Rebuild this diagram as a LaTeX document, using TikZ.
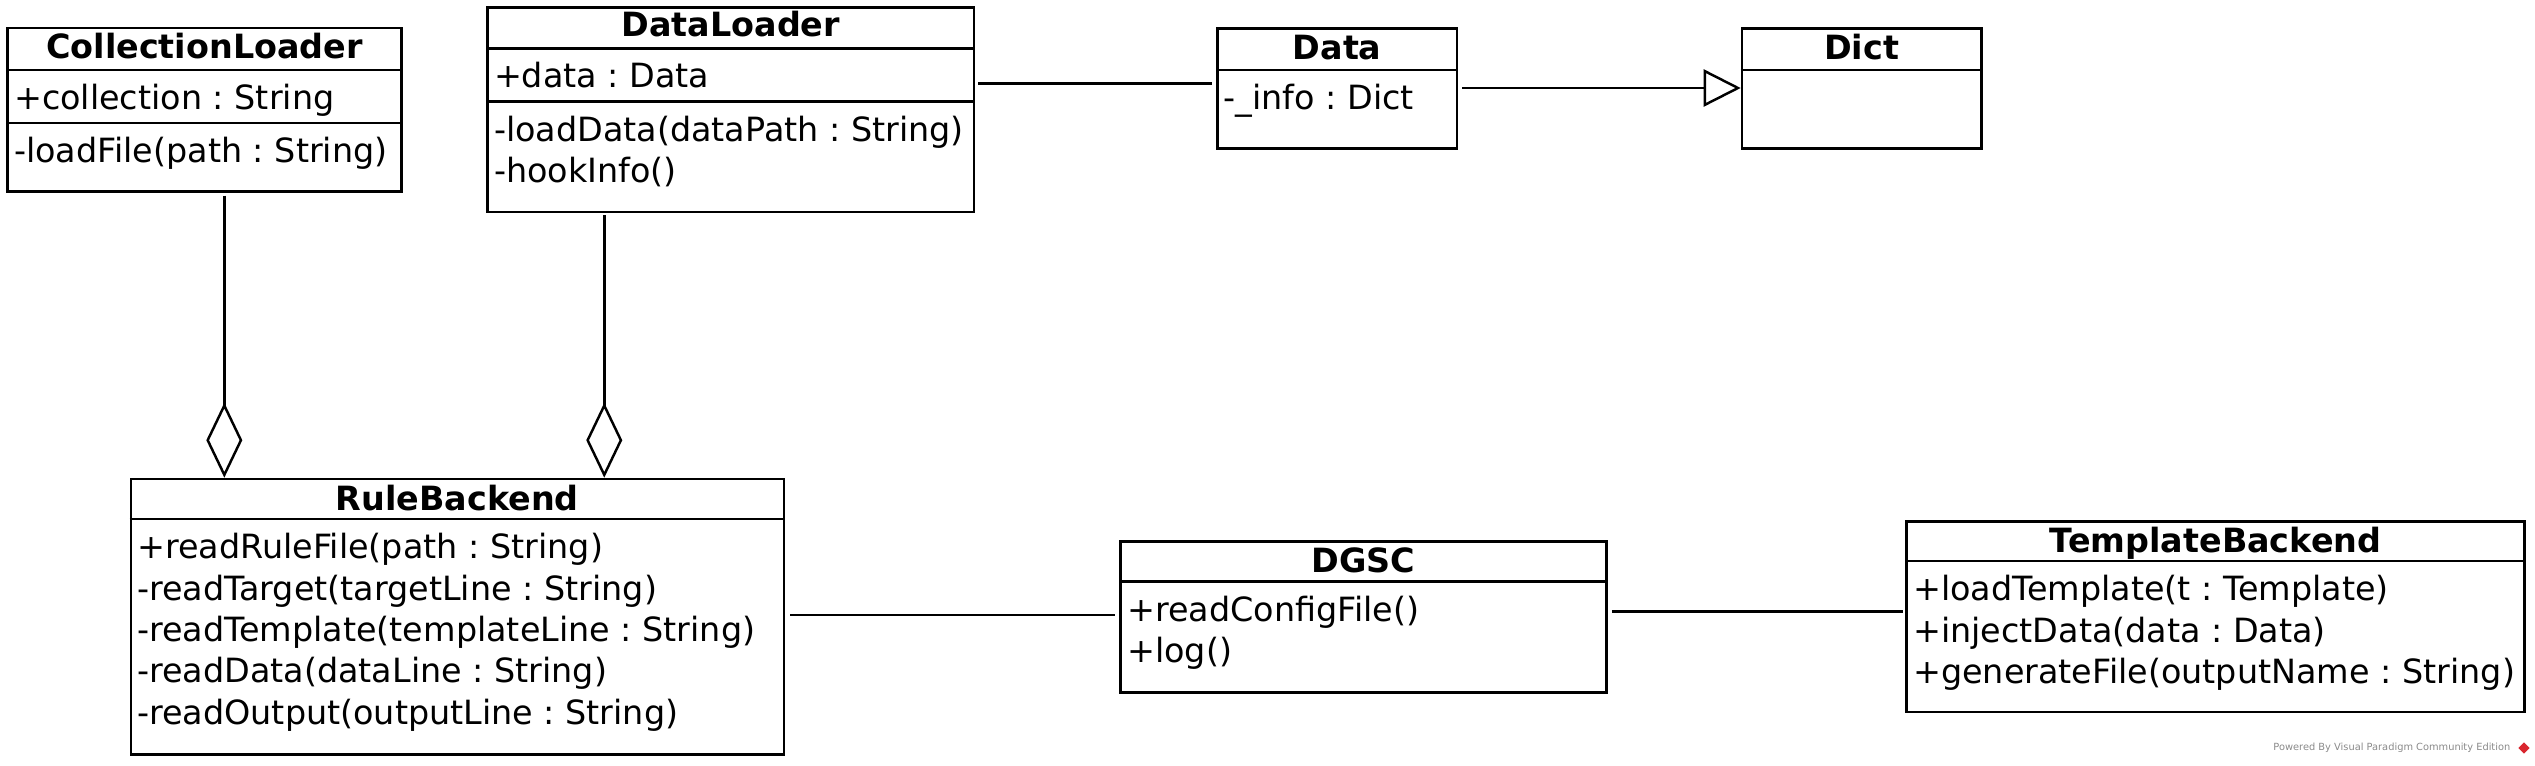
\documentclass[tikz,border=0pt]{standalone}
\usepackage{fontspec}
\setmainfont{DejaVu Sans}
\usetikzlibrary{positioning,arrows.meta,calc}
\frenchspacing
\definecolor{umlLine}{HTML}{000000}
\definecolor{markGray}{HTML}{8A8A8A}
\definecolor{vpRed}{HTML}{D9262E}
\tikzset{
    classbox/.style={draw=umlLine,line width=0.75pt,fill=white,anchor=north west,inner sep=0pt},
    classtitle/.style={font=\fontsize{9.5}{11.8}\selectfont\bfseries,inner sep=0pt,anchor=base},
    members/.style={font=\fontsize{9.5}{11.8}\selectfont,align=left,anchor=north west,
        inner xsep=0.07cm,inner ysep=0.135cm},
    divider/.style={draw=umlLine,line width=0.75pt},
    assoc/.style={draw=umlLine,line width=0.7pt},
    aggregation/.style={assoc,-{Diamond[open,length=7.5mm,width=3.6mm]}},
    generalization/.style={assoc,-{Triangle[open,length=3.7mm,width=3.7mm]}}
}
\begin{document}
\begin{tikzpicture}
    \useasboundingbox (0,0) rectangle (25.35,-7.65);

    % class boxes
    \node[classbox,minimum width=3.936cm,minimum height=1.633cm] (collLoader) at (0.064,-0.267) {};
    \node[classbox,minimum width=4.863cm,minimum height=2.047cm] (dataLoader) at (4.863,-0.06) {};
    \node[classbox,minimum width=2.396cm,minimum height=1.20cm] (data) at (12.16,-0.27) {};
    \node[classbox,minimum width=2.393cm,minimum height=1.20cm] (dict) at (17.407,-0.27) {};
    \node[classbox,minimum width=6.531cm,minimum height=2.753cm] (ruleBackend) at (1.295,-4.777) {};
    \node[classbox,minimum width=4.858cm,minimum height=1.51cm] (dgsc) at (11.194,-5.40) {};
    \node[classbox,minimum width=6.176cm,minimum height=1.907cm] (templateBackend) at (19.054,-5.20) {};

    % CollectionLoader
    \node[classtitle] (collTitle) at ([yshift=-0.32cm]collLoader.north) {CollectionLoader};
    \draw[divider] ([yshift=-0.433cm]collLoader.north west) -- ([yshift=-0.433cm]collLoader.north east);
    \draw[divider] ([yshift=-0.963cm]collLoader.north west) -- ([yshift=-0.963cm]collLoader.north east);
    \node[members] (collAttrs) at ([yshift=-0.433cm]collLoader.north west) {+collection : String};
    \node[members] (collOps) at ([yshift=-0.963cm]collLoader.north west) {-loadFile(path : String)};

    % DataLoader
    \node[classtitle] (dataLoaderTitle) at ([yshift=-0.31cm]dataLoader.north) {DataLoader};
    \draw[divider] ([yshift=-0.423cm]dataLoader.north west) -- ([yshift=-0.423cm]dataLoader.north east);
    \draw[divider] ([yshift=-0.957cm]dataLoader.north west) -- ([yshift=-0.957cm]dataLoader.north east);
    \node[members] (dataLoaderAttrs) at ([yshift=-0.423cm]dataLoader.north west) {+data : Data};
    \node[members] (dataLoaderOps) at ([yshift=-0.957cm]dataLoader.north west)
        {-loadData(dataPath : String)\\-hookInfo()};

    % Data
    \node[classtitle] (dataTitle) at ([yshift=-0.32cm]data.north) {Data};
    \draw[divider] ([yshift=-0.43cm]data.north west) -- ([yshift=-0.43cm]data.north east);
    \node[members] (dataAttrs) at ([yshift=-0.43cm]data.north west) {-\_info : Dict};

    % Dict
    \node[classtitle] (dictTitle) at ([yshift=-0.32cm]dict.north) {Dict};
    \draw[divider] ([yshift=-0.43cm]dict.north west) -- ([yshift=-0.43cm]dict.north east);

    % RuleBackend
    \node[classtitle] (ruleTitle) at ([yshift=-0.323cm]ruleBackend.north) {RuleBackend};
    \draw[divider] ([yshift=-0.413cm]ruleBackend.north west) -- ([yshift=-0.413cm]ruleBackend.north east);
    \node[members] (ruleOps) at ([yshift=-0.413cm]ruleBackend.north west)
        {+readRuleFile(path : String)\\-readTarget(targetLine : String)\\-readTemplate(templateLine : String)\\-readData(dataLine : String)\\-readOutput(outputLine : String)};

    % DGSC
    \node[classtitle] (dgscTitle) at ([yshift=-0.32cm]dgsc.north) {DGSC};
    \draw[divider] ([yshift=-0.417cm]dgsc.north west) -- ([yshift=-0.417cm]dgsc.north east);
    \node[members] (dgscOps) at ([yshift=-0.417cm]dgsc.north west) {+readConfigFile()\\+log()};

    % TemplateBackend
    \node[classtitle] (templateTitle) at ([yshift=-0.32cm]templateBackend.north) {TemplateBackend};
    \draw[divider] ([yshift=-0.41cm]templateBackend.north west) -- ([yshift=-0.41cm]templateBackend.north east);
    \node[members] (templateOps) at ([yshift=-0.41cm]templateBackend.north west)
        {+loadTemplate(t : Template)\\+injectData(data : Data)\\+generateFile(outputName : String)};

    % relations
    \draw[aggregation,shorten <=0.03cm] ([xshift=0.198cm]collLoader.south) -- ([xshift=0.198cm]collLoader.south |- ruleBackend.north);
    \draw[aggregation,shorten <=0.02cm] ([xshift=-1.265cm]dataLoader.south) -- ([xshift=-1.265cm]dataLoader.south |- ruleBackend.north);
    \draw[assoc,shorten <=0.03cm,shorten >=0.04cm] ([yshift=-0.773cm]dataLoader.north east) -- ([yshift=-0.773cm]dataLoader.north east -| data.west);
    \draw[generalization,shorten <=0.04cm] ([yshift=-0.61cm]data.north east) -- ([yshift=-0.61cm]data.north east -| dict.west);
    \draw[assoc,shorten <=0.05cm,shorten >=0.04cm] ([yshift=-1.373cm]ruleBackend.north east) -- ([yshift=-1.373cm]ruleBackend.north east -| dgsc.west);
    \draw[assoc,shorten <=0.04cm,shorten >=0.02cm] ([yshift=-0.717cm]dgsc.north east) -- ([yshift=-0.717cm]dgsc.north east -| templateBackend.west);

    % watermark
    \node[font=\fontsize{2.8}{3}\selectfont,text=markGray,anchor=east,inner sep=0pt] (poweredBy) at (25.11,-7.48)
        {Powered By Visual Paradigm Community Edition};
    \node[fill=vpRed,rotate=45,minimum size=0.08cm,inner sep=0pt] (vpLogo) at (25.24,-7.48) {};
\end{tikzpicture}
\end{document}
